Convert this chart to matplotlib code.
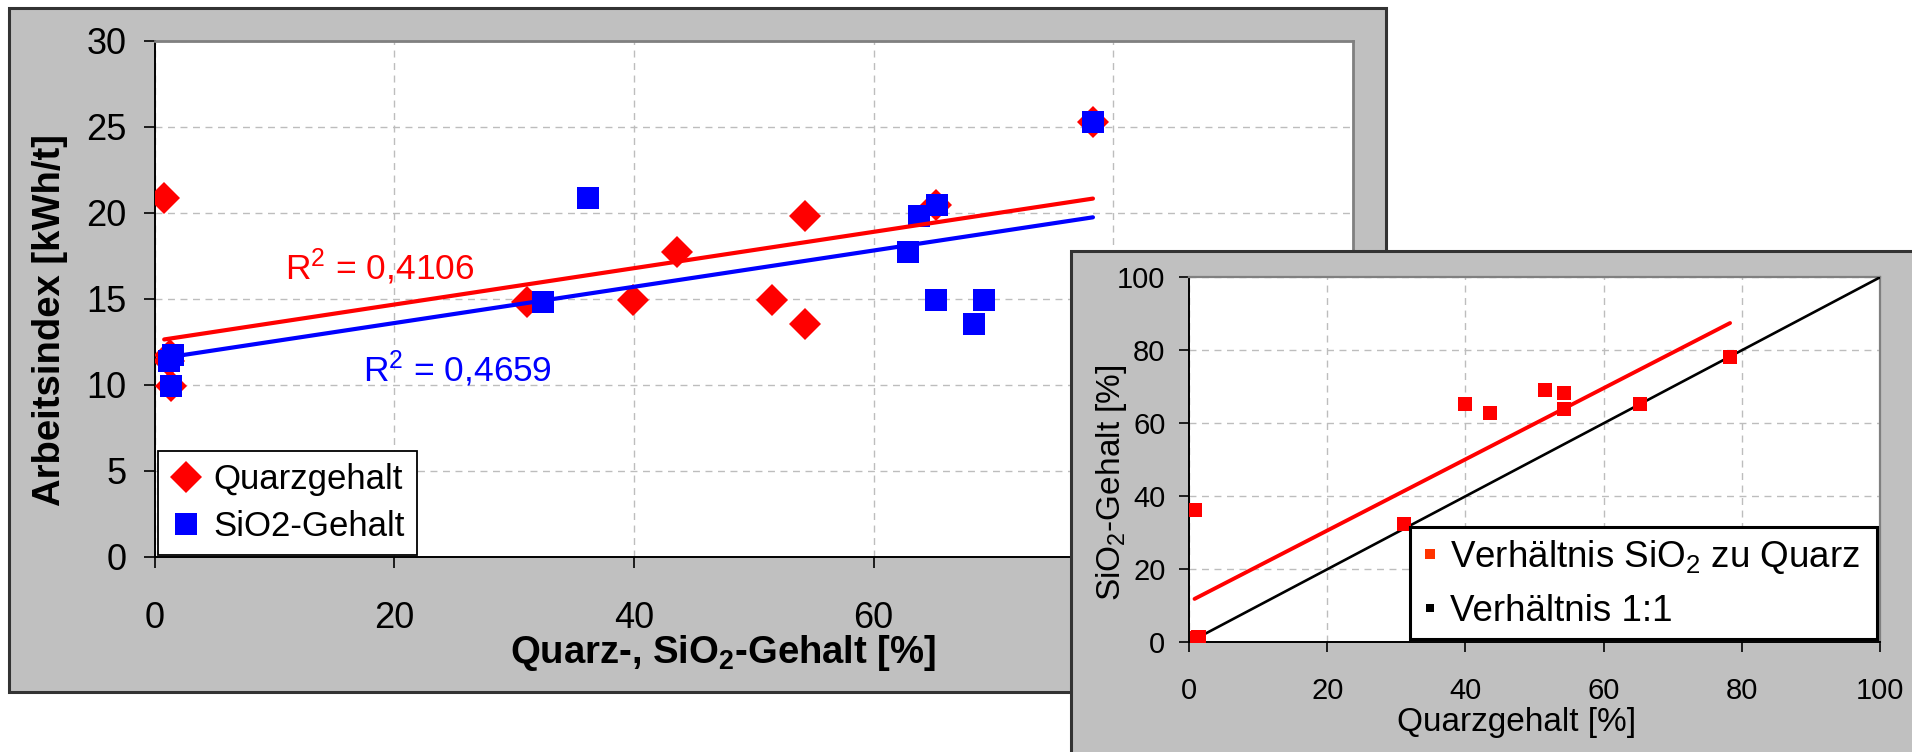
import matplotlib
matplotlib.use("Agg")
import matplotlib.pyplot as plt
import numpy as np
from matplotlib.patches import Rectangle
from matplotlib.lines import Line2D

plt.rcParams['font.family'] = ['Liberation Sans', 'DejaVu Sans']
plt.rcParams['mathtext.fontset'] = 'custom'
plt.rcParams['mathtext.rm'] = 'Liberation Sans'
plt.rcParams['mathtext.it'] = 'Liberation Sans:italic'
plt.rcParams['mathtext.bf'] = 'Liberation Sans:bold'

# ---------------- data ----------------
quarz = [0.8, 1.2, 1.3, 1.4, 31.1, 39.9, 43.6, 51.5, 54.3, 54.3, 65.2, 78.3]
sio2 = [36.2, 1.2, 1.5, 1.35, 32.4, 65.2, 62.9, 69.2, 63.8, 68.4, 65.3, 78.3]
arbeitsindex = [20.85, 11.4, 11.7, 9.9, 14.8, 14.9, 17.7, 14.9, 19.8, 13.55, 20.45, 25.3]

series_labels = ["Quarzgehalt", "SiO2-Gehalt"]
r2_labels = ["R$^2$ = 0,4106", "R$^2$ = 0,4659"]
main_xticks = [0, 20, 40, 60, 80, 100]
main_yticks = [0, 5, 10, 15, 20, 25, 30]
inset_ticks = [0, 20, 40, 60, 80, 100]
line11_x = [0, 100]
line11_y = [0, 100]
inset_labels = ["Verhältnis SiO$_2$ zu Quarz", "Verhältnis 1:1"]

W, H = 1912, 752
fig = plt.figure(figsize=(W / 100, H / 100), dpi=100)
fig.patch.set_facecolor('white')


def fx(px):
    return px / W


def fy(py):
    return 1 - py / H


GRAY = '#C0C0C0'
GRID = '#BDBDBD'

# ---------------- main chart ----------------
fig.add_artist(Rectangle((fx(9), fy(692)), (1386 - 9) / W, (692 - 8) / H,
                         transform=fig.transFigure, facecolor=GRAY,
                         edgecolor='#333333', linewidth=2.2, zorder=0.2))

ax = fig.add_axes([fx(154.6), fy(556.7), (1353 - 154.6) / W, (556.7 - 40.7) / H])
ax.set_zorder(1)
ax.set_facecolor('white')
ax.set_xlim(0, 100)
ax.set_ylim(0, 30)
ax.set_xticks(main_xticks)
ax.set_yticks(main_yticks)
ax.grid(True, color=GRID, linestyle=(0, (5, 4)), linewidth=1.0)
ax.set_axisbelow(True)
for s in ['left', 'bottom']:
    ax.spines[s].set_color('black')
    ax.spines[s].set_linewidth(1.4)
for s in ['top', 'right']:
    ax.spines[s].set_color('#808080')
    ax.spines[s].set_linewidth(2.0)
ax.tick_params(axis='both', direction='out', length=8, width=1.2,
               colors='black', labelsize=26)
ax.tick_params(axis='y', pad=12)
ax.tick_params(axis='x', pad=24)

ax.plot(quarz, arbeitsindex, linestyle='none', marker='D', markersize=16,
        color='red', markeredgewidth=0, zorder=3)
ax.plot(sio2, arbeitsindex, linestyle='none', marker='s', markersize=16,
        color='blue', markeredgewidth=0, zorder=4)

for xs, col in [(quarz, 'red'), (sio2, 'blue')]:
    k, d = np.polyfit(xs, arbeitsindex, 1)
    xx = np.array([min(xs), max(xs)])
    ax.plot(xx, k * xx + d, color=col, linewidth=3.0, zorder=5,
            solid_capstyle='round')

ax.text(10.87, 16.13, r2_labels[0], color='red', fontsize=25.5,
        ha='left', va='baseline', zorder=6)
ax.text(17.39, 10.17, r2_labels[1], color='blue', fontsize=25.5,
        ha='left', va='baseline', zorder=6)

h1 = Line2D([], [], linestyle='none', marker='D', markersize=16, color='red',
            markeredgewidth=0)
h2 = Line2D([], [], linestyle='none', marker='s', markersize=16, color='blue',
            markeredgewidth=0)
leg = ax.legend([h1, h2], series_labels, loc='lower left',
                bbox_to_anchor=(0.003, 0.003), fontsize=25, frameon=True,
                fancybox=False, edgecolor='black', framealpha=1,
                borderaxespad=0, handlelength=0.9, handletextpad=0.35,
                labelspacing=0.4, borderpad=0.35)
leg.get_frame().set_linewidth(1.3)
leg.set_zorder(10)

fig.text(fx(50), fy(320), "Arbeitsindex [kWh/t]", rotation=90, fontsize=27.5,
         fontweight='bold', ha='center', va='center', zorder=1.5)
fig.text(fx(723), fy(653), r"Quarz-, SiO$_{\mathbf{2}}$-Gehalt [%]",
         fontsize=27.5, fontweight='bold', ha='center', va='center', zorder=1.5)

# ---------------- inset chart ----------------
fig.add_artist(Rectangle((fx(1071), fy(770)), (1940 - 1071) / W, (770 - 251) / H,
                         transform=fig.transFigure, facecolor=GRAY,
                         edgecolor='#333333', linewidth=2.2, zorder=2))

ax2 = fig.add_axes([fx(1189), fy(642.3), 691 / W, 365 / H])
ax2.set_zorder(3)
ax2.set_facecolor('white')
ax2.set_xlim(0, 100)
ax2.set_ylim(0, 100)
ax2.set_xticks(inset_ticks)
ax2.set_yticks(inset_ticks)
ax2.grid(True, color=GRID, linestyle=(0, (5, 4)), linewidth=1.0)
ax2.set_axisbelow(True)
for s in ['left', 'bottom']:
    ax2.spines[s].set_color('black')
    ax2.spines[s].set_linewidth(1.4)
for s in ['top', 'right']:
    ax2.spines[s].set_color('#808080')
    ax2.spines[s].set_linewidth(1.6)
ax2.tick_params(axis='both', direction='out', length=7, width=1.2,
                colors='black', labelsize=21)
ax2.tick_params(axis='y', pad=10)
ax2.tick_params(axis='x', pad=18)

ax2.plot(line11_x, line11_y, color='black', linewidth=1.9, zorder=3)
ax2.plot(quarz, sio2, linestyle='none', marker='s', markersize=9.5,
         color='red', markeredgewidth=0, zorder=4)
k2, d2 = np.polyfit(quarz, sio2, 1)
xx2 = np.array([min(quarz), max(quarz)])
ax2.plot(xx2, k2 * xx2 + d2, color='red', linewidth=2.8, zorder=5,
         solid_capstyle='round')

g1 = Line2D([], [], linestyle='none', marker='s', markersize=7,
            color='#FF3300', markeredgewidth=0)
g2 = Line2D([], [], linestyle='none', marker='s', markersize=6,
            color='black', markeredgewidth=0)
leg2 = ax2.legend([g1, g2], inset_labels, loc='lower left',
                  bbox_to_anchor=(0.3205, 0.0082, 0.675, 0.3), mode='expand',
                  fontsize=26.5, frameon=True, fancybox=False,
                  edgecolor='black', framealpha=1, borderaxespad=0,
                  handlelength=0.5, handletextpad=0.3, labelspacing=0.5,
                  borderpad=0.28)
leg2.get_frame().set_linewidth(2.2)
leg2.set_zorder(10)

fig.text(fx(1111.6), fy(483), "SiO$_2$-Gehalt [%]", rotation=90, fontsize=24,
         ha='center', va='center', zorder=4)
fig.text(fx(1516.5), fy(722), "Quarzgehalt [%]", fontsize=24,
         ha='center', va='center', zorder=4)

fig.savefig('out.png', dpi=100, facecolor='white')
